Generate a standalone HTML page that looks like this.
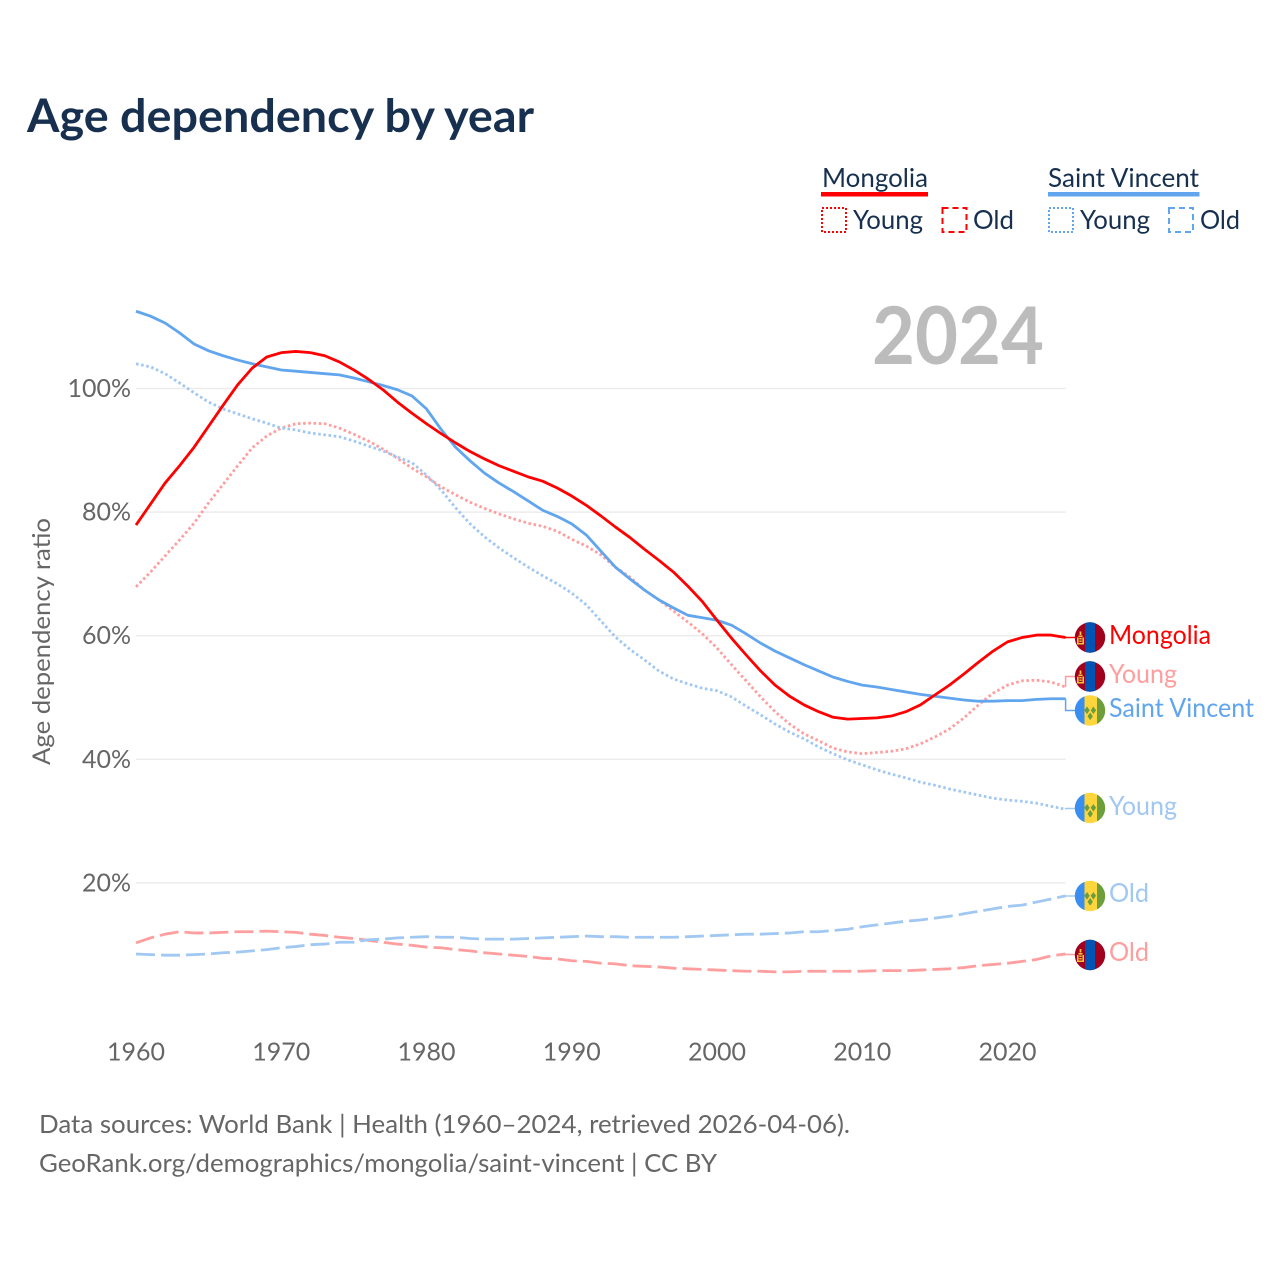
<!DOCTYPE html>
<html lang="en">
<head>
<meta charset="utf-8">
<title>Age dependency by year</title>
<style>
html,body{margin:0;padding:0;background:#fff;}
svg{display:block;}
text{font-family:Lato,Carlito,"Liberation Sans",sans-serif;}
</style>
</head>
<body>
<svg id="chart" xmlns="http://www.w3.org/2000/svg" width="1280" height="1280" viewBox="0 0 1280 1280">
<defs>
<clipPath id="flag-clip"><circle cx="15" cy="15" r="15.2"/></clipPath>
<g id="flag-mn" clip-path="url(#flag-clip)">
<rect x="-1" y="-1" width="32" height="32" fill="#a0001e"/>
<rect x="10" y="-1" width="10" height="32" fill="#0054b4"/>
<rect x="4.6" y="9" width="1.8" height="3.5" fill="#f5c83c"/>
<rect x="3.5" y="13" width="4" height="1.6" fill="#f5c83c"/>
<rect x="2" y="15" width="1.6" height="6" fill="#f5c83c"/>
<rect x="7.4" y="15" width="1.6" height="6" fill="#f5c83c"/>
<rect x="4.3" y="15.5" width="2.4" height="1.4" fill="#f5c83c"/>
<rect x="4.3" y="18" width="2.4" height="1.4" fill="#f5c83c"/>
<rect x="2" y="20.5" width="7" height="1.5" fill="#f5c83c"/>
</g>
<g id="flag-vc" clip-path="url(#flag-clip)">
<rect x="-1" y="-1" width="10.5" height="32" fill="#3a8eef"/>
<rect x="9.5" y="-1" width="12.5" height="32" fill="#ffd53d"/>
<rect x="22" y="-1" width="9" height="32" fill="#6d9e3c"/>
<polygon points="12,11 14.7,14.8 12,18.6 9.3,14.8" fill="#6a9d3c"/>
<polygon points="18.4,11 21.1,14.8 18.4,18.6 15.7,14.8" fill="#6a9d3c"/>
<polygon points="15.2,17 17.9,20.8 15.2,24.6 12.5,20.8" fill="#6a9d3c"/>
</g>
</defs>

<text x="27" y="132" font-size="46" font-weight="700" fill="#17304f" textLength="507" lengthAdjust="spacingAndGlyphs">Age dependency by year</text>

<g>
<text x="822" y="187" font-size="26" fill="#17304f" textLength="106" lengthAdjust="spacingAndGlyphs">Mongolia</text>
<rect x="821" y="192" width="107" height="4.5" fill="#ff0000"/>
<rect x="822" y="208" width="24" height="24" fill="none" stroke="#ff0000" stroke-width="2" stroke-dasharray="2 2"/>
<text x="853" y="229" font-size="26" fill="#17304f" textLength="70" lengthAdjust="spacingAndGlyphs">Young</text>
<rect x="942.5" y="208" width="24" height="24" fill="none" stroke="#ff0000" stroke-width="2" stroke-dasharray="6 4"/>
<text x="973" y="229" font-size="26" fill="#17304f" textLength="41" lengthAdjust="spacingAndGlyphs">Old</text>
<text x="1048" y="187" font-size="26" fill="#17304f" textLength="151" lengthAdjust="spacingAndGlyphs">Saint Vincent</text>
<rect x="1048" y="192" width="151.5" height="4.5" fill="#60a5ee"/>
<rect x="1049" y="208" width="24" height="24" fill="none" stroke="#60a5ee" stroke-width="2" stroke-dasharray="2 2"/>
<text x="1080" y="229" font-size="26" fill="#17304f" textLength="70" lengthAdjust="spacingAndGlyphs">Young</text>
<rect x="1169" y="208" width="24" height="24" fill="none" stroke="#60a5ee" stroke-width="2" stroke-dasharray="6 4"/>
<text x="1200" y="229" font-size="26" fill="#17304f" textLength="40" lengthAdjust="spacingAndGlyphs">Old</text>
</g>

<text x="872" y="364" font-size="80" font-weight="700" fill="#bcbcbc" textLength="172" lengthAdjust="spacingAndGlyphs">2024</text>
<text transform="translate(50,765) rotate(-90)" font-size="24" fill="#666666" textLength="247" lengthAdjust="spacingAndGlyphs">Age dependency ratio</text>

<g id="grid"></g>
<g id="y-ticks"></g>
<g id="x-ticks"></g>
<g id="series"></g>

<g>
<use href="#flag-mn" x="1075" y="622.5"/>
<use href="#flag-mn" x="1075" y="661.5"/>
<use href="#flag-vc" x="1075" y="695.5"/>
<use href="#flag-vc" x="1075" y="793"/>
<use href="#flag-vc" x="1075" y="881"/>
<use href="#flag-mn" x="1075" y="940"/>
<text x="1109" y="644" font-size="26" fill="#ff0000" textLength="102" lengthAdjust="spacingAndGlyphs">Mongolia</text>
<text x="1109" y="683" font-size="26" fill="#ff9e9e" textLength="68" lengthAdjust="spacingAndGlyphs">Young</text>
<text x="1109" y="717" font-size="26" fill="#60a5ee" textLength="145" lengthAdjust="spacingAndGlyphs">Saint Vincent</text>
<text x="1109" y="815" font-size="26" fill="#a0c8f2" textLength="68" lengthAdjust="spacingAndGlyphs">Young</text>
<text x="1109" y="902" font-size="26" fill="#a0c8f2" textLength="40" lengthAdjust="spacingAndGlyphs">Old</text>
<text x="1109" y="961" font-size="26" fill="#ff9e9e" textLength="40" lengthAdjust="spacingAndGlyphs">Old</text>
</g>

<text x="39" y="1133" font-size="25.5" fill="#666666" textLength="811" lengthAdjust="spacingAndGlyphs">Data sources: World Bank | Health (1960–2024, retrieved 2026-04-06).</text>
<text x="39" y="1172" font-size="25.5" fill="#666666" textLength="678" lengthAdjust="spacingAndGlyphs">GeoRank.org/demographics/mongolia/saint-vincent | CC BY</text>
</svg>

<script>
var firstYear = 1960;
var yTickValues = [20, 40, 60, 80, 100];
var yTickLabels = ["20%", "40%", "60%", "80%", "100%"];
var xTickValues = [1960, 1970, 1980, 1990, 2000, 2010, 2020];
var xTickLabels = ["1960", "1970", "1980", "1990", "2000", "2010", "2020"];

var mongoliaTotal = [77.9,81.3,84.7,87.5,90.5,93.9,97.3,100.6,103.3,105.1,105.8,106.0,105.8,105.3,104.3,103.0,101.5,99.8,97.8,96.0,94.3,92.7,91.2,89.8,88.6,87.5,86.6,85.7,85.0,83.9,82.6,81.1,79.4,77.6,75.9,74.0,72.2,70.3,68.0,65.5,62.5,59.6,56.9,54.3,52.0,50.2,48.8,47.7,46.8,46.5,46.6,46.7,47.0,47.7,48.8,50.4,52.0,53.8,55.7,57.5,59.0,59.7,60.1,60.1,59.7];
var saintVincentTotal = [112.5,111.7,110.6,109.0,107.2,106.1,105.3,104.6,104.0,103.5,103.0,102.8,102.6,102.4,102.2,101.7,101.1,100.5,99.8,98.8,96.7,93.4,90.5,88.3,86.3,84.7,83.3,81.8,80.3,79.3,78.1,76.3,73.7,71.1,69.2,67.4,65.8,64.5,63.3,62.9,62.5,61.7,60.3,58.8,57.5,56.4,55.3,54.3,53.3,52.6,52.0,51.7,51.3,50.9,50.5,50.2,49.9,49.6,49.4,49.4,49.5,49.5,49.7,49.8,49.8];
var mongoliaYoung = [67.9,70.3,72.9,75.5,78.2,81.5,84.5,87.5,90.4,92.3,93.6,94.3,94.4,94.3,93.6,92.6,91.5,90.2,88.7,87.1,85.7,84.1,82.8,81.6,80.6,79.7,78.9,78.2,77.7,76.9,75.6,74.5,73.1,71.1,69.5,67.4,65.8,64.0,62.2,60.3,58.0,55.3,52.7,50.1,47.7,45.7,44.1,43.0,41.8,41.2,40.9,41.1,41.3,41.7,42.5,43.6,44.9,46.7,48.8,50.7,52.0,52.7,52.8,52.5,51.7];
var saintVincentYoung = [104.0,103.5,102.4,100.9,99.3,97.8,96.7,95.9,95.1,94.4,93.6,93.3,92.8,92.5,92.2,91.5,90.7,89.9,88.9,88.0,86.0,83.6,80.7,78.1,76.0,74.2,72.6,71.1,69.7,68.4,66.9,65.0,62.4,59.8,57.8,56.1,54.3,53.0,52.2,51.5,51.1,50.1,48.6,47.2,45.7,44.4,43.3,42.0,40.9,39.9,39.1,38.3,37.6,37.0,36.3,35.8,35.2,34.7,34.2,33.7,33.4,33.2,32.9,32.4,31.9];
var mongoliaOld = [10.3,11.1,11.7,12.1,11.9,11.9,12.0,12.1,12.1,12.2,12.1,12.0,11.7,11.5,11.2,11.0,10.7,10.4,10.1,9.9,9.6,9.5,9.2,9.0,8.7,8.5,8.3,8.1,7.8,7.7,7.4,7.3,7.0,6.9,6.6,6.5,6.4,6.2,6.1,6.0,5.9,5.8,5.7,5.7,5.6,5.6,5.7,5.7,5.7,5.7,5.7,5.8,5.8,5.8,5.9,6.0,6.1,6.3,6.6,6.8,7.0,7.3,7.6,8.2,8.5];
var saintVincentOld = [8.5,8.4,8.3,8.3,8.4,8.5,8.7,8.8,9.0,9.2,9.5,9.7,10.0,10.1,10.4,10.4,10.8,10.9,11.1,11.2,11.3,11.2,11.2,11.0,10.9,10.9,10.9,11.0,11.1,11.2,11.3,11.4,11.3,11.3,11.2,11.2,11.2,11.2,11.3,11.4,11.5,11.6,11.7,11.7,11.8,11.9,12.1,12.1,12.3,12.5,12.9,13.2,13.5,13.8,14.0,14.3,14.6,15.0,15.4,15.8,16.2,16.4,16.9,17.4,17.9];

var NS = "http://www.w3.org/2000/svg";
function xScale(year) { return 136 + (year - 1960) * 14.525; }
function yScale(pct) { return 1006.5 - pct * 6.18; }

function make(tag, attrs, parent) {
  var el = document.createElementNS(NS, tag);
  for (var k in attrs) { el.setAttribute(k, attrs[k]); }
  parent.appendChild(el);
  return el;
}

var gridGroup = document.getElementById("grid");
var yTickGroup = document.getElementById("y-ticks");
var xTickGroup = document.getElementById("x-ticks");
var seriesGroup = document.getElementById("series");

yTickValues.forEach(function (v, i) {
  var line = make("line", {x1: 136, x2: xScale(2024), y1: yScale(v), y2: yScale(v), stroke: "#ececec", "stroke-width": 1.5}, gridGroup);
  
  
  var t = make("text", {x: 131, y: yScale(v) + 8.5, "text-anchor": "end", "font-size": 25, fill: "#666666"}, yTickGroup);
  
  
  t.textContent = yTickLabels[i];
});

xTickValues.forEach(function (v, i) {
  var t = make("text", {x: xScale(v), y: 1060.5, "text-anchor": "middle", "font-size": 25, fill: "#666666"}, xTickGroup);
  
  
  t.textContent = xTickLabels[i];
});

function drawSeries(values, color, dash, width, flagY, name) {
  var d = values.map(function (v, i) {
    return (i ? "L" : "M") + xScale(firstYear + i).toFixed(2) + " " + yScale(v).toFixed(2);
  }).join(" ");
  var attrs = {d: d, fill: "none", stroke: color, "stroke-width": width, "stroke-linejoin": "round"};
  if (dash) { attrs["stroke-dasharray"] = dash; }
  var path = make("path", attrs, seriesGroup);
  
  
  var endX = xScale(firstYear + values.length - 1);
  var endY = yScale(values[values.length - 1]);
  var conn = make("path", {d: "M" + endX + " " + endY + " V" + flagY + " H1076", fill: "none", stroke: color, "stroke-width": 1.5}, seriesGroup);
  
  
}

drawSeries(mongoliaOld, "#ff9e9e", "19 6", 2.8, 954.5, "line-mongolia-old");
drawSeries(saintVincentOld, "#a0c8f2", "19 6", 2.8, 896, "line-saint-vincent-old");
drawSeries(mongoliaYoung, "#ff9e9e", "2.6 2.6", 2.8, 676.5, "line-mongolia-young");
drawSeries(saintVincentYoung, "#a0c8f2", "2.6 2.6", 2.8, 808.5, "line-saint-vincent-young");
drawSeries(saintVincentTotal, "#60a5ee", "", 2.8, 710.5, "line-saint-vincent-total");
drawSeries(mongoliaTotal, "#ff0000", "", 2.8, 637.5, "line-mongolia-total");
</script>
</body>
</html>
